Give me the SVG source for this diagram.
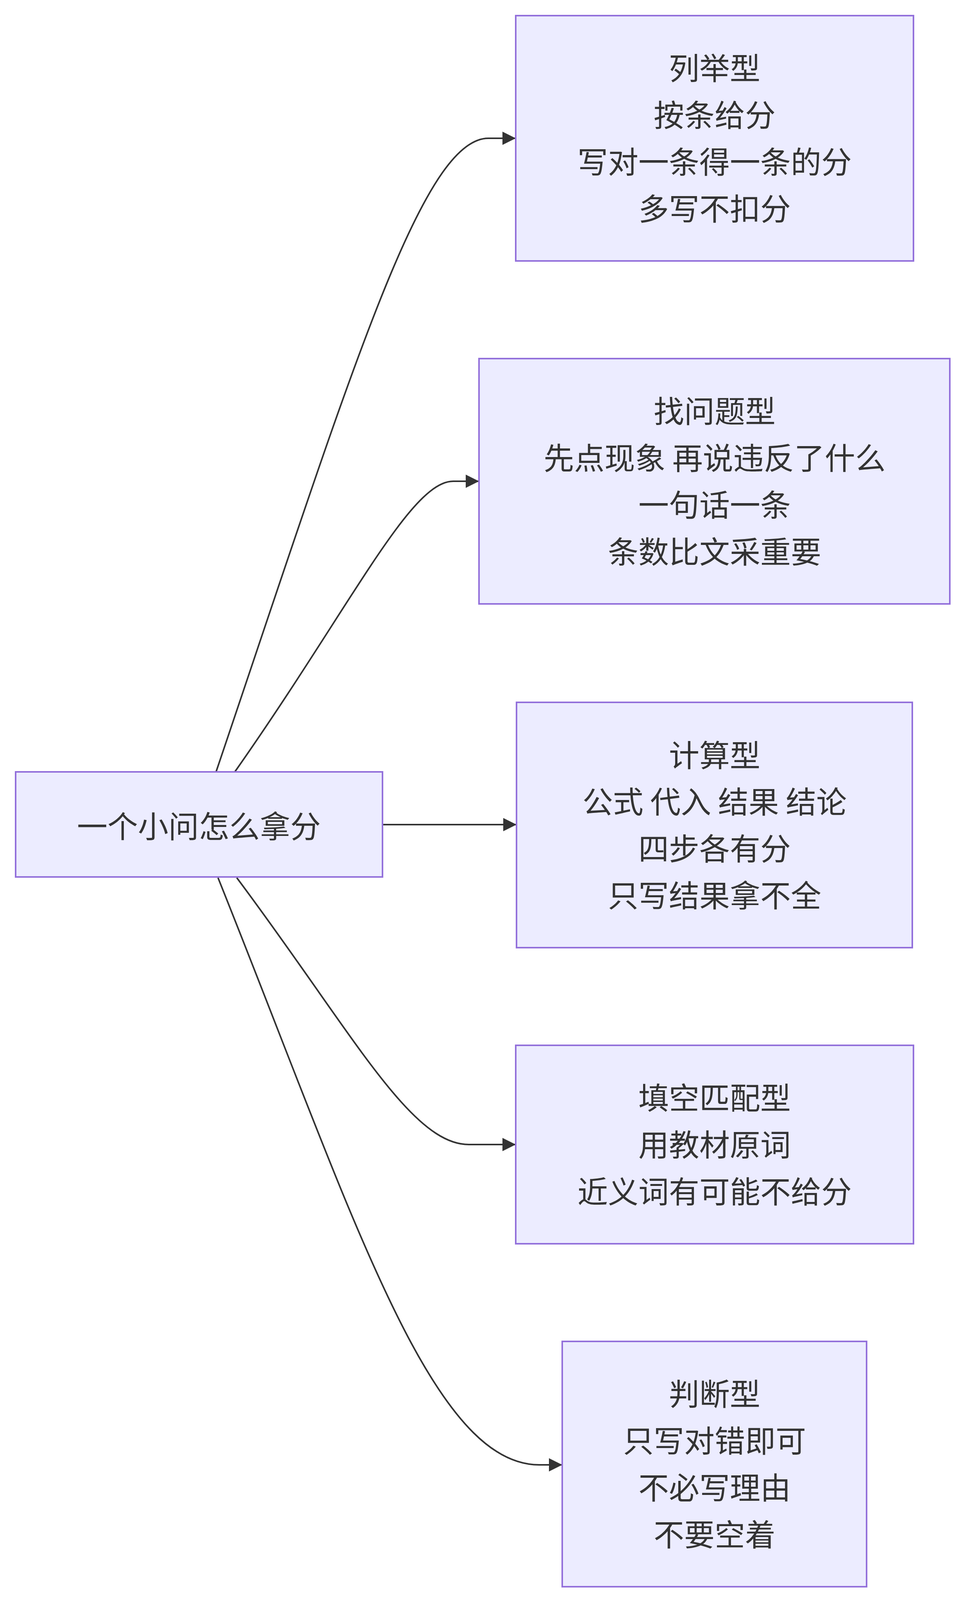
<svg xmlns="http://www.w3.org/2000/svg" width="2475" height="4110" viewBox="0 0 2475 4110">
<style>
.n rect{fill:#ECECFF;stroke:#9370DB;stroke-width:4}
.n text{font-family:"Noto Sans CJK SC","Liberation Sans",sans-serif;font-size:78px;fill:#333;text-anchor:middle;dominant-baseline:central}
.e path{fill:none;stroke:#333;stroke-width:4}
</style>
<defs>
<marker id="a" markerUnits="userSpaceOnUse" markerWidth="34" markerHeight="34" refX="32" refY="17" orient="auto">
<path d="M0,0 L34,17 L0,34 z" fill="#333"/>
</marker>
</defs>
<rect width="2475" height="4110" fill="#fff"/>
<g class="e">
<path d="M553,1976 C900,950 1080,354 1250,354 L1318,354" marker-end="url(#a)"/>
<path d="M601,1976 C900,1550 1050,1232 1160,1232 L1224,1232" marker-end="url(#a)"/>
<path d="M979,2111 L1320,2111" marker-end="url(#a)"/>
<path d="M606,2247 C900,2640 1050,2930 1200,2930 L1318,2930" marker-end="url(#a)"/>
<path d="M558,2247 C900,3100 1100,3750 1380,3750 L1437,3750" marker-end="url(#a)"/>
</g>
<g id="root" class="n"><rect x="40" y="1976" width="939" height="269"/><text x="509" y="2111">一个小问怎么拿分</text></g>
<g id="n1" class="n"><rect x="1320" y="40" width="1018" height="628"/>
<text x="1829" y="170">列举型</text><text x="1829" y="290">按条给分</text><text x="1829" y="410">写对一条得一条的分</text><text x="1829" y="530">多写不扣分</text></g>
<g id="n2" class="n"><rect x="1226" y="918" width="1205" height="628"/>
<text x="1829" y="1048">找问题型</text><text x="1829" y="1168">先点现象 再说违反了什么</text><text x="1829" y="1288">一句话一条</text><text x="1829" y="1408">条数比文采重要</text></g>
<g id="n3" class="n"><rect x="1322" y="1798" width="1013" height="628"/>
<text x="1829" y="1929">计算型</text><text x="1829" y="2048">公式 代入 结果 结论</text><text x="1829" y="2168">四步各有分</text><text x="1829" y="2288">只写结果拿不全</text></g>
<g id="n4" class="n"><rect x="1320" y="2676" width="1018" height="508"/>
<text x="1829" y="2806">填空匹配型</text><text x="1829" y="2926">用教材原词</text><text x="1829" y="3046">近义词有可能不给分</text></g>
<g id="n5" class="n"><rect x="1439" y="3434" width="779" height="628"/>
<text x="1829" y="3564">判断型</text><text x="1829" y="3684">只写对错即可</text><text x="1829" y="3804">不必写理由</text><text x="1829" y="3924">不要空着</text></g>
</svg>
